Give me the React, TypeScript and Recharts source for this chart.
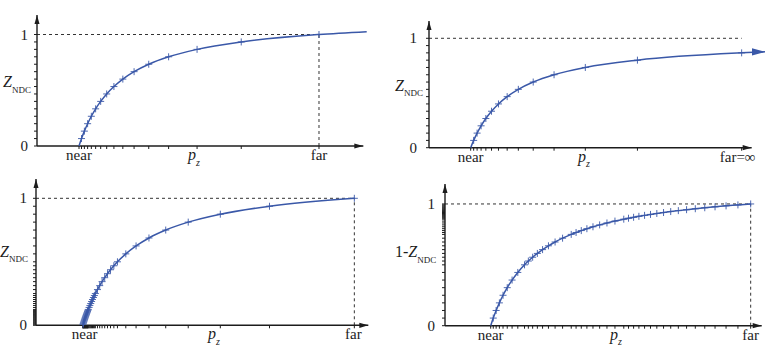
import React from 'react'
import { LineChart, Line, XAxis, YAxis, ReferenceLine, ReferenceDot } from 'recharts'

const W = 780
const H = 359
const INK = '#1c1c1c'
const DASH = '#333'
const BLUE = '#3a58a8'
const FONT = '"Liberation Serif", "Times New Roman", serif'
const AXW = 30 // room for y labels
const AXH = 20 // room for x labels

// top left: evenly spaced Z_NDC, finite far plane
const tlMarkP = [1, 1.0602, 1.128, 1.2051, 1.2936, 1.3961, 1.5162, 1.6589, 1.8312, 2.0436, 2.3116, 2.6606, 3.1336, 3.8113, 4.8628, 6.714]
const tlMarkZ = [0, 0.0667, 0.1333, 0.2, 0.2667, 0.3333, 0.4, 0.4667, 0.5333, 0.6, 0.6667, 0.7333, 0.8, 0.8667, 0.9333, 1]
const tlTailP = [7.85]
const tlTailZ = [1.0253]

// top right: far = infinity
const trMarkP = [1, 1.0714, 1.1538, 1.25, 1.3636, 1.5, 1.6667, 1.875, 2.1429, 2.5, 3, 3.75, 5, 7.5]
const trMarkZ = [0, 0.0667, 0.1333, 0.2, 0.2667, 0.3333, 0.4, 0.4667, 0.5333, 0.6, 0.6667, 0.7333, 0.8, 0.8667]
const trTailP = [8.06]
const trTailZ = [0.876]
const trTickZ = [0, 0.0667, 0.1333, 0.2, 0.2667, 0.3333, 0.4, 0.4667, 0.5333, 0.6, 0.6667, 0.7333, 0.8, 0.8667, 0.9333, 1]

// bottom left: floating point Z_NDC (dense near 0)
const blMarkP = [
  1, 1.0067, 1.0135, 1.0204, 1.0274, 1.0345, 1.0417, 1.049, 1.0563, 1.0638, 1.0714, 1.0791, 1.087, 1.0949, 1.1029, 1.1111, 1.1194,
  1.1364, 1.1538, 1.1719, 1.1905, 1.2097, 1.2295, 1.25, 1.271,
  1.316, 1.364, 1.415, 1.471, 1.531, 1.596, 1.667, 1.744,
  1.923, 2.143, 2.419, 2.778, 3.26, 3.947, 5.0, 6.817,
]
const blMarkZ = [
  0, 0.0078, 0.0156, 0.0234, 0.0313, 0.0391, 0.0469, 0.0547, 0.0625, 0.0703, 0.0781, 0.0859, 0.0938, 0.1016, 0.1094, 0.1172, 0.125,
  0.1406, 0.1563, 0.1719, 0.1875, 0.2031, 0.2188, 0.2344, 0.25,
  0.2813, 0.3125, 0.3438, 0.375, 0.4063, 0.4375, 0.4688, 0.5,
  0.5625, 0.625, 0.6875, 0.75, 0.8125, 0.875, 0.9375, 1,
]

// bottom right: reversed, 1 - Z_NDC (dense near 1)
const brMarkP = [
  1, 1.056, 1.119, 1.19, 1.27, 1.362, 1.468, 1.593, 1.74,
  1.824, 1.918, 2.021, 2.135, 2.264, 2.409, 2.573, 2.762,
  2.868, 2.982, 3.105, 3.238, 3.384, 3.544, 3.719, 3.912,
  4.016, 4.127, 4.243, 4.367, 4.497, 4.635, 4.782, 4.939, 5.106, 5.286, 5.477, 5.684, 5.909, 6.15, 6.41, 6.689,
]
const brMarkZ = [
  0, 0.0625, 0.125, 0.1875, 0.25, 0.3125, 0.375, 0.4375, 0.5,
  0.5313, 0.5625, 0.5938, 0.625, 0.6563, 0.6875, 0.7188, 0.75,
  0.7656, 0.7813, 0.7969, 0.8125, 0.8281, 0.8438, 0.8594, 0.875,
  0.8828, 0.8906, 0.8984, 0.9063, 0.9141, 0.9219, 0.9297, 0.9375, 0.9453, 0.9531, 0.9609, 0.9688, 0.9766, 0.9844, 0.9922, 1,
]

type Cfg = {
  markP: number[]
  markZ: number[]
  tailP: number[]
  tailZ: number[]
  tickZ: number[]
  arrowTail: boolean
  origin: [number, number]
  right: number
  top: number
  xMax: number
  yMax: number
  xArrow: number
  dashEnd: number
  dashVertical: boolean
  xLabels: [number, string, number][]
  yGap: number
  pz: [number, number]
  title: [number, number]
  prefix: string
}

const panels: Cfg[] = [
  {
    markP: tlMarkP, markZ: tlMarkZ, tailP: tlTailP, tailZ: tlTailZ, tickZ: tlMarkZ, arrowTail: false,
    origin: [37, 146], right: 366.7, top: 15,
    xMax: 7.85, yMax: 1.175, xArrow: 7.77, dashEnd: 6.714, dashVertical: true,
    xLabels: [[1, 'near', 0], [6.714, 'far', 0]], yGap: 9, pz: [151, 14], title: [-34, -58.7], prefix: '',
  },
  {
    markP: trMarkP, markZ: trMarkZ, tailP: trTailP, tailZ: trTailZ, tickZ: trTickZ, arrowTail: true,
    origin: [429, 147.7], right: 765, top: 21,
    xMax: 8.06, yMax: 1.158, xArrow: 7.74, dashEnd: 7.5, dashVertical: false,
    xLabels: [[1, 'near', 0], [7.5, 'far=∞', -4]], yGap: 12, pz: [149, 14], title: [-34, -57], prefix: '',
  },
  {
    markP: blMarkP, markZ: blMarkZ, tailP: [], tailZ: [], tickZ: blMarkZ, arrowTail: false,
    origin: [36, 325.3], right: 368.3, top: 179,
    xMax: 7.116, yMax: 1.152, xArrow: 7.116, dashEnd: 6.817, dashVertical: true,
    xLabels: [[1, 'near', 2], [6.817, 'far', -1]], yGap: 9, pz: [172, 14], title: [-36, -68.6], prefix: '',
  },
  {
    markP: brMarkP, markZ: brMarkZ, tailP: [], tailZ: [], tickZ: brMarkZ, arrowTail: false,
    origin: [445, 325.7], right: 761.7, top: 184,
    xMax: 6.93, yMax: 1.164, xArrow: 6.93, dashEnd: 6.689, dashVertical: true,
    xLabels: [[1, 'near', 0], [6.689, 'far', 0]], yGap: 10, pz: [165, 14], title: [-50, -68.7], prefix: '1-',
  },
]

const renderDot = (props: any) => {
  const { cx, cy, payload, index } = props
  if (payload.arrow) {
    return <path key={`a${index}`} d={`M${cx},${cy}l-13,-3.6v7.2z`} fill={BLUE} />
  }
  if (!payload.mark) return <g key={`n${index}`} />
  return (
    <path
      key={`m${index}`}
      d={`M${cx - 3.5},${cy}h7M${cx},${cy - 3.5}v7`}
      stroke={BLUE}
      strokeWidth={0.9}
      fill="none"
    />
  )
}

const xTick = (labels: [number, string, number][]) => (props: any) => {
  const { x, y, payload } = props
  const hit = labels.find((l) => Math.abs(l[0] - payload.value) < 1e-6)
  if (!hit) return <g />
  return (
    <text x={x + hit[2]} y={y + 11} textAnchor="middle" fontFamily={FONT} fontSize={15} fill={INK}>
      {hit[1]}
    </text>
  )
}

const yTick = (gap: number) => (props: any) => {
  const { x, y, payload } = props
  const v = payload.value
  if (v !== 0 && v !== 1) return <g />
  return (
    <text x={x + 3 - gap} y={y + 5} textAnchor="end" fontFamily={FONT} fontSize={15} fill={INK}>
      {v}
    </text>
  )
}

const pzTitle = (dx: number, dy: number) => (props: any) => {
  const vb = props.viewBox
  return (
    <text x={vb.x + dx} y={vb.y + dy} fontFamily={FONT} fontSize={16} fill={INK}>
      <tspan fontStyle="italic">p</tspan>
      <tspan fontStyle="italic" fontSize={10} dy={5.5}>z</tspan>
    </text>
  )
}

const zTitle = (dx: number, dy: number, prefix: string) => (props: any) => {
  const vb = props.viewBox
  return (
    <text x={vb.x + vb.width + dx} y={vb.y + vb.height + dy} fontFamily={FONT} fontSize={16} fill={INK}>
      {prefix && <tspan>{prefix}</tspan>}
      <tspan fontStyle="italic">Z</tspan>
      <tspan fontSize={9} dy={5.5}>NDC</tspan>
    </text>
  )
}

function Panel({ cfg }: { cfg: Cfg }) {
  const data = [
    ...cfg.markP.map((p, i) => ({ p, z: cfg.markZ[i], mark: i > 0, arrow: false })),
    ...cfg.tailP.map((p, i) => ({
      p,
      z: cfg.tailZ[i],
      mark: false,
      arrow: cfg.arrowTail && i === cfg.tailP.length - 1,
    })),
  ]
  const margin = {
    left: cfg.origin[0] - AXW,
    top: cfg.top,
    right: W - cfg.right,
    bottom: H - cfg.origin[1] - AXH,
  }
  const tickStyle = { stroke: INK, strokeWidth: 1 }
  return (
    <div style={{ position: 'absolute', left: 0, top: 0 }}>
      <LineChart width={W} height={H} data={data} margin={margin}>
        <XAxis
          type="number"
          dataKey="p"
          domain={[0, cfg.xMax]}
          ticks={cfg.markP}
          interval={0}
          height={AXH}
          axisLine={false}
          tickLine={tickStyle}
          tickSize={3}
          tickMargin={0}
          tick={xTick(cfg.xLabels)}
          label={{ content: pzTitle(cfg.pz[0], cfg.pz[1]) }}
        />
        <YAxis
          type="number"
          domain={[0, cfg.yMax]}
          ticks={cfg.tickZ}
          interval={0}
          width={AXW}
          axisLine={false}
          tickLine={tickStyle}
          tickSize={3}
          tickMargin={0}
          tick={yTick(cfg.yGap)}
          label={{ content: zTitle(cfg.title[0], cfg.title[1], cfg.prefix) }}
        />
        <YAxis
          yAxisId="R"
          type="number"
          domain={[0, cfg.yMax]}
          ticks={cfg.tickZ}
          interval={0}
          width={1}
          mirror
          axisLine={false}
          tickLine={tickStyle}
          tickSize={3}
          tick={false}
        />
        <ReferenceLine
          segment={[{ x: 0, y: 1 }, { x: cfg.dashEnd, y: 1 }]}
          stroke={DASH}
          strokeDasharray="3 3"
          ifOverflow="visible"
        />
        {cfg.dashVertical && (
          <ReferenceLine
            segment={[{ x: cfg.dashEnd, y: 0 }, { x: cfg.dashEnd, y: 1 }]}
            stroke={DASH}
            strokeDasharray="3 3"
            ifOverflow="visible"
          />
        )}
        <ReferenceLine
          segment={[{ x: 0, y: 0 }, { x: cfg.xArrow, y: 0 }]}
          stroke={INK}
          strokeWidth={1.4}
          ifOverflow="visible"
        />
        <ReferenceLine
          segment={[{ x: 0, y: 0 }, { x: 0, y: cfg.yMax }]}
          stroke={INK}
          strokeWidth={1.4}
          ifOverflow="visible"
        />
        <ReferenceDot
          x={cfg.xArrow}
          y={0}
          r={1}
          ifOverflow="visible"
          shape={(s: any) => <path d={`M${s.cx},${s.cy}l-9,-2.6v5.2z`} fill={INK} />}
        />
        <ReferenceDot
          x={0}
          y={cfg.yMax}
          r={1}
          ifOverflow="visible"
          shape={(s: any) => <path d={`M${s.cx},${s.cy}l-2.5,9h5z`} fill={INK} />}
        />
        <Line
          dataKey="z"
          type="monotone"
          stroke={BLUE}
          strokeWidth={1.5}
          dot={renderDot}
          activeDot={false}
          isAnimationActive={false}
        />
      </LineChart>
    </div>
  )
}

export default function App() {
  return (
    <div style={{ position: 'absolute', left: 0, top: 0, width: W, height: H, background: '#fff', overflow: 'hidden' }}>
      {panels.map((cfg, i) => (
        <Panel key={i} cfg={cfg} />
      ))}
    </div>
  )
}
